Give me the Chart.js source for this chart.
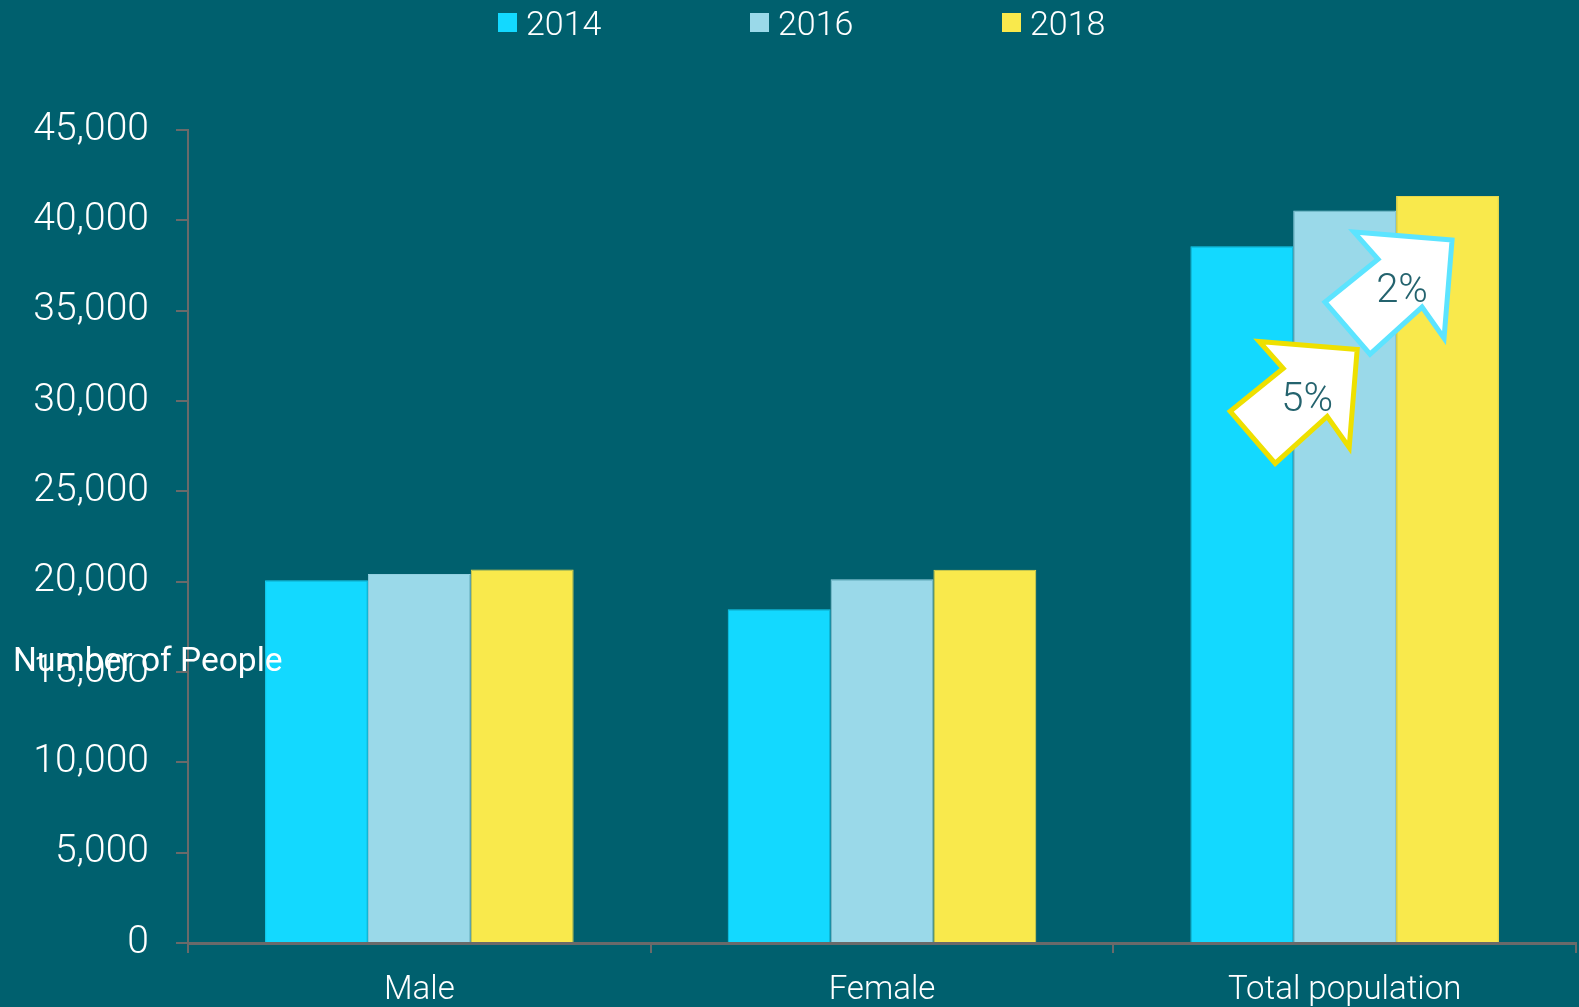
<!DOCTYPE html>
<html><head><meta charset="utf-8">
<script src="https://cdn.jsdelivr.net/npm/chart.js@4.4.1/dist/chart.umd.min.js"></script>
<style>
html,body{margin:0;padding:0;background:#00606E;}
#wrap{width:1579px;height:1007px;position:relative;}
</style></head><body><div id="wrap"><canvas id="c" width="1579" height="1007"></canvas></div>
<script>
// ---- data ----
const categories = ['Male', 'Female', 'Total population'];
const seriesLabels = ['2014', '2016', '2018'];
const values2014 = [20080, 18480, 38560];
const values2016 = [20420, 20130, 40550];
const values2018 = [20680, 20660, 41340];
const yTickValues = [0, 5000, 10000, 15000, 20000, 25000, 30000, 35000, 40000, 45000];
const growthLabels = ['5%', '2%'];
const axisTitle = 'Number of People';

// ---- styles ----
const BG = '#00606E';
const seriesColors = ['#13D9FF', '#9AD9E9', '#F9E94C'];
const seriesBorders = ['#12cdf2', '#93d0e0', '#ead84a'];
const axisColor = '#6a6a6a';
const FONT = 'Roboto, "Noto Sans", sans-serif';

// callout placement (category index, fraction of category width from centre, y value, border colour)
const callouts = [
  {cat: 2, dx: -0.081, y: 30200, border: '#EEE000'},
  {cat: 2, dx: 0.124, y: 36250, border: '#5CE4FF'}
];
const arrowShape = [[50,-48],[-48,-56],[-24,-29],[-77,14],[-32,66],[20,19],[42,50]];

const bgPlugin = {
  id: 'bg',
  beforeDraw(chart) {
    const ctx = chart.ctx;
    ctx.save();
    ctx.fillStyle = BG;
    ctx.fillRect(0, 0, chart.width, chart.height);
    ctx.restore();
  }
};

const legendPlugin = {
  id: 'customLegend',
  afterDraw(chart) {
    const ctx = chart.ctx;
    ctx.save();
    const startX = 498, step = 252, box = 19, boxTop = 13;
    chart.data.datasets.forEach((ds, i) => {
      const x = startX + i * step;
      ctx.fillStyle = ds.backgroundColor;
      ctx.fillRect(x, boxTop, box, box);
      ctx.fillStyle = '#ffffff';
      ctx.font = '300 34px ' + FONT;
      ctx.textBaseline = 'alphabetic';
      ctx.textAlign = 'left';
      ctx.fillText(ds.label, x + box + 9, 35);
    });
    ctx.restore();
  }
};

const titlePlugin = {
  id: 'yTitle',
  afterDraw(chart) {
    const ctx = chart.ctx;
    ctx.save();
    ctx.fillStyle = '#ffffff';
    ctx.font = '400 33.5px ' + FONT;
    ctx.textBaseline = 'alphabetic';
    ctx.textAlign = 'left';
    ctx.fillText(axisTitle, 13, 671);
    ctx.restore();
  }
};

const calloutPlugin = {
  id: 'callouts',
  afterDatasetsDraw(chart) {
    const ctx = chart.ctx;
    const xs = chart.scales.x, ys = chart.scales.y;
    const catW = xs.width / categories.length;
    ctx.save();
    callouts.forEach((c, i) => {
      const cx = xs.getPixelForValue(c.cat) + c.dx * catW;
      const cy = ys.getPixelForValue(c.y);
      ctx.beginPath();
      arrowShape.forEach((p, k) => {
        const px = cx + p[0], py = cy + p[1];
        if (k === 0) ctx.moveTo(px, py); else ctx.lineTo(px, py);
      });
      ctx.closePath();
      ctx.fillStyle = '#ffffff';
      ctx.fill();
      ctx.lineWidth = 5;
      ctx.lineJoin = 'miter';
      ctx.strokeStyle = c.border;
      ctx.stroke();
      ctx.fillStyle = '#24636e';
      ctx.font = '300 40px ' + FONT;
      ctx.textAlign = 'center';
      ctx.textBaseline = 'middle';
      ctx.fillText(growthLabels[i], cx, cy + 4);
    });
    ctx.restore();
  }
};

const datasets = [values2014, values2016, values2018].map((vals, i) => ({
  label: seriesLabels[i],
  data: vals,
  backgroundColor: seriesColors[i],
  borderColor: seriesBorders[i],
  borderWidth: 1,
  categoryPercentage: 0.667,
  barPercentage: 1.0
}));

new Chart(document.getElementById('c'), {
  type: 'bar',
  data: {labels: categories, datasets},
  plugins: [bgPlugin, legendPlugin, titlePlugin, calloutPlugin],
  options: {
    responsive: false,
    devicePixelRatio: 1,
    animation: false,
    layout: {padding: {left: 0, right: 3, top: 130, bottom: 0}},
    plugins: {legend: {display: false}, tooltip: {enabled: false}},
    scales: {
      y: {
        min: 0, max: 45000,
        afterBuildTicks(scale) { scale.ticks = yTickValues.map(v => ({value: v})); },
        afterFit(scale) { scale.width = 188; },
        ticks: {
          color: '#ffffff',
          font: {family: FONT, size: 39, weight: 300},
          padding: 27,
          callback: v => v.toLocaleString('en-US')
        },
        grid: {drawOnChartArea: false, drawTicks: true, tickLength: 12, color: axisColor, lineWidth: 2},
        border: {display: true, color: axisColor, width: 2}
      },
      x: {
        afterFit(scale) { scale.height = 64; },
        ticks: {
          color: '#ffffff',
          font: {family: FONT, size: 33, weight: 300},
          padding: 18,
          maxRotation: 0
        },
        grid: {drawOnChartArea: false, drawTicks: true, tickLength: 10, color: axisColor, lineWidth: 2, offset: true},
        border: {display: true, color: axisColor, width: 3}
      }
    }
  }
});
</script></body></html>
